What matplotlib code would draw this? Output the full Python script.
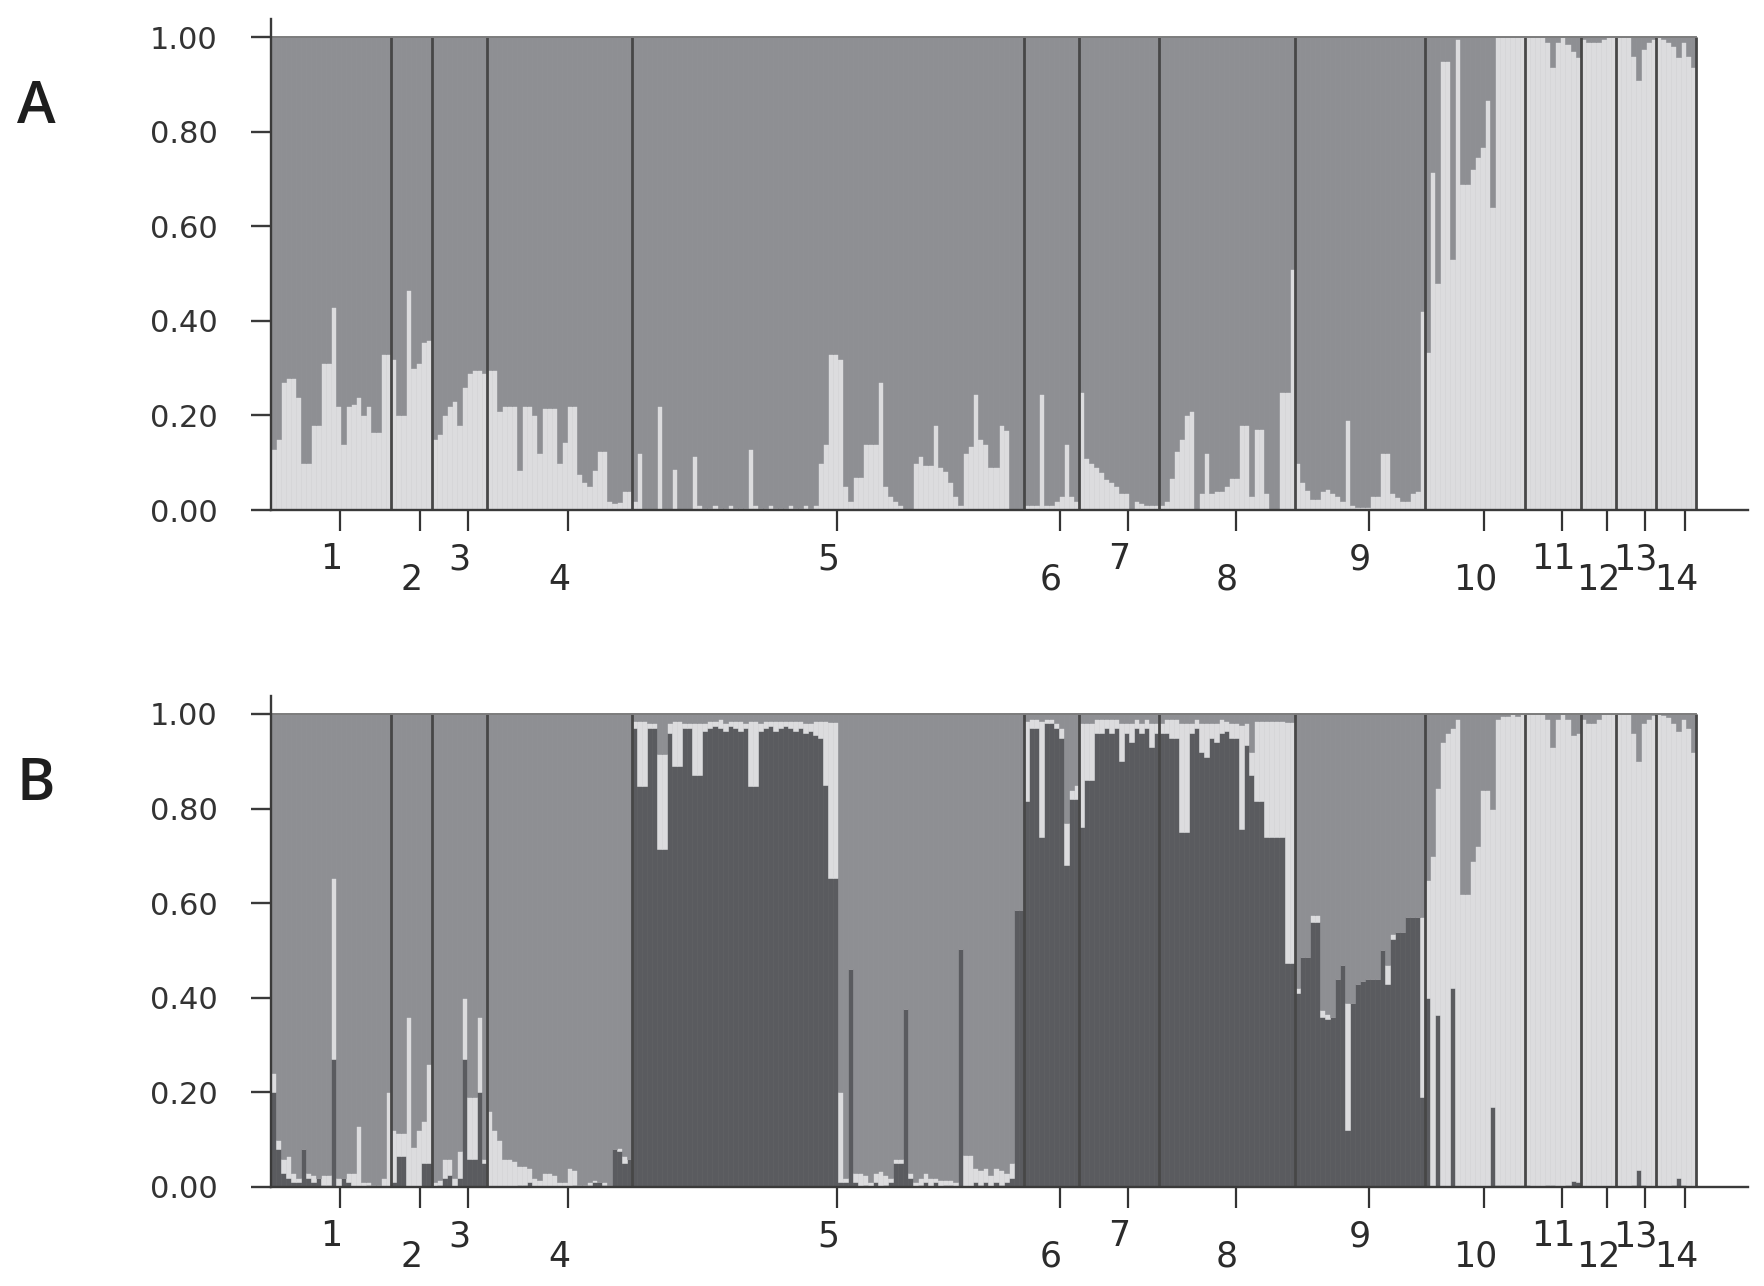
import numpy as np
import matplotlib.pyplot as plt

# populations (labels under the x axis) and number of individuals in each
pop_labels = [str(i) for i in range(1, 15)]
pop_sizes = [24, 8, 11, 29, 78, 11, 16, 27, 26, 20, 11, 7, 8, 8]

# panel A (K=2): share of the light cluster per individual, the rest is mid grey
a_light = [
    0.13, 0.15, 0.27, 0.28, 0.28, 0.24, 0.10, 0.10, 0.18, 0.18, 0.31, 0.31,
    0.43, 0.22, 0.14, 0.22, 0.225, 0.24, 0.20, 0.22, 0.165, 0.165, 0.33, 0.33,  # 1
    0.32, 0.20, 0.20, 0.465, 0.30, 0.31, 0.355, 0.36,  # 2
    0.15, 0.16, 0.20, 0.22, 0.23, 0.18, 0.26, 0.29, 0.295, 0.295, 0.29,  # 3
    0.295, 0.295, 0.21, 0.22, 0.22, 0.22, 0.085, 0.22, 0.22, 0.20, 0.12, 0.215,
    0.215, 0.215, 0.10, 0.143, 0.22, 0.22, 0.077, 0.06, 0.05, 0.085, 0.125,
    0.125, 0.02, 0.015, 0.017, 0.04, 0.04,  # 4
    0.02, 0.12, 0.0, 0.0, 0.0, 0.22, 0.0, 0.0, 0.087, 0.0, 0.0, 0.0, 0.115, 0.01,
    0.005, 0.005, 0.01, 0.005, 0.005, 0.01, 0.005, 0.005, 0.005, 0.13,
    0.01, 0.005, 0.005, 0.01, 0.005, 0.005, 0.005, 0.01, 0.005, 0.005, 0.01,
    0.005, 0.01, 0.10, 0.14, 0.33, 0.33, 0.32, 0.05, 0.02, 0.07, 0.07, 0.14,
    0.14, 0.14, 0.27, 0.05, 0.03, 0.02, 0.01, 0.0, 0.0, 0.10, 0.115, 0.095,
    0.095, 0.18, 0.09, 0.083, 0.06, 0.03, 0.01, 0.12, 0.136, 0.245, 0.15, 0.14,
    0.09, 0.09, 0.18, 0.17, 0.0, 0.0, 0.0,  # 5
    0.01, 0.01, 0.01, 0.245, 0.01, 0.01, 0.02, 0.03, 0.14, 0.03, 0.02,  # 6
    0.25, 0.11, 0.10, 0.09, 0.08, 0.065, 0.06, 0.05, 0.035, 0.035, 0.0, 0.02,
    0.015, 0.01, 0.01, 0.01,  # 7
    0.01, 0.02, 0.067, 0.124, 0.15, 0.20, 0.21, 0.0, 0.035, 0.12, 0.035, 0.04,
    0.04, 0.05, 0.067, 0.067, 0.18, 0.18, 0.03, 0.172, 0.172, 0.035, 0.0, 0.0,
    0.25, 0.25, 0.51,  # 8
    0.10, 0.06, 0.043, 0.023, 0.023, 0.04, 0.045, 0.035, 0.03, 0.02, 0.19, 0.01,
    0.006, 0.006, 0.006, 0.03, 0.03, 0.12, 0.12, 0.035, 0.027, 0.02, 0.02,
    0.035, 0.04, 0.42,  # 9
    0.335, 0.714, 0.48, 0.95, 0.95, 0.53, 0.995, 0.69, 0.69, 0.72, 0.747, 0.767,
    0.866, 0.64, 1.0, 1.0, 1.0, 1.0, 1.0, 1.0,  # 10
    1.0, 1.0, 1.0, 1.0, 0.99, 0.937, 0.99, 1.0, 0.985, 0.97, 0.957,  # 11
    0.995, 0.99, 0.99, 0.99, 0.995, 1.0, 1.0,  # 12
    1.0, 1.0, 1.0, 0.96, 0.91, 0.975, 0.99, 0.995,  # 13
    1.0, 0.995, 0.99, 0.98, 0.957, 0.99, 0.96, 0.937,  # 14
]

# panel B (K=3): dark cluster (bottom) and light cluster (middle), mid grey on top
b_dark = [
    0.20, 0.08, 0.03, 0.02, 0.01, 0.01, 0.08, 0.02, 0.01, 0.02, 0.005, 0.005,
    0.27, 0.0, 0.02, 0.01, 0.0, 0.0, 0.0, 0.005, 0.0, 0.0, 0.0, 0.0,  # 1
    0.01, 0.065, 0.065, 0.0, 0.0, 0.0, 0.05, 0.05,  # 2
    0.0, 0.005, 0.02, 0.025, 0.0, 0.02, 0.27, 0.06, 0.06, 0.2, 0.05,  # 3
    0.0, 0.0, 0.0, 0.0, 0.0, 0.0, 0.005, 0.005, 0.01, 0.0, 0.0, 0.0, 0.0, 0.0,
    0.0, 0.0, 0.0, 0.005, 0.0, 0.0, 0.005, 0.01, 0.01, 0.005, 0.005, 0.08,
    0.077, 0.05, 0.06,  # 4
    0.97, 0.848, 0.848, 0.97, 0.97, 0.715, 0.715, 0.96, 0.89, 0.89, 0.97, 0.97,
    0.87, 0.87, 0.965, 0.97, 0.975, 0.97, 0.965, 0.975, 0.97, 0.965, 0.97,
    0.848, 0.848, 0.965, 0.97, 0.975, 0.965, 0.97, 0.975, 0.97, 0.965, 0.97,
    0.96, 0.965, 0.955, 0.95, 0.85, 0.654, 0.654, 0.01, 0.01, 0.46, 0.01, 0.0,
    0.005, 0.0, 0.01, 0.0, 0.005, 0.01, 0.05, 0.05, 0.376, 0.02, 0.0, 0.005,
    0.01, 0.0, 0.01, 0.0, 0.005, 0.005, 0.0, 0.504, 0.0, 0.0, 0.01, 0.005, 0.01,
    0.0, 0.01, 0.005, 0.01, 0.02, 0.585, 0.585,  # 5
    0.815, 0.97, 0.97, 0.74, 0.98, 0.98, 0.97, 0.95, 0.68, 0.82, 0.82,  # 6
    0.76, 0.86, 0.86, 0.96, 0.96, 0.97, 0.96, 0.97, 0.90, 0.96, 0.94, 0.97,
    0.96, 0.97, 0.93, 0.96,  # 7
    0.96, 0.96, 0.95, 0.95, 0.75, 0.75, 0.96, 0.97, 0.92, 0.91, 0.95, 0.94,
    0.96, 0.965, 0.95, 0.95, 0.756, 0.935, 0.87, 0.815, 0.815, 0.74, 0.74,
    0.74, 0.74, 0.474, 0.474,  # 8
    0.41, 0.487, 0.487, 0.56, 0.56, 0.36, 0.355, 0.36, 0.44, 0.47, 0.12, 0.39,
    0.43, 0.435, 0.44, 0.44, 0.44, 0.50, 0.43, 0.525, 0.54, 0.54, 0.57, 0.57,
    0.57, 0.19,  # 9
    0.40, 0.0, 0.363, 0.0, 0.0, 0.42, 0.0, 0.0, 0.0, 0.0, 0.0, 0.0, 0.0, 0.17,
    0.005, 0.005, 0.005, 0.005, 0.005, 0.005,  # 10
    0.005, 0.003, 0.003, 0.003, 0.005, 0.005, 0.003, 0.003, 0.005, 0.012, 0.01,  # 11
    0.003, 0.003, 0.003, 0.003, 0.003, 0.003, 0.003,  # 12
    0.003, 0.003, 0.003, 0.005, 0.035, 0.005, 0.003, 0.003,  # 13
    0.003, 0.003, 0.003, 0.005, 0.02, 0.005, 0.003, 0.003,  # 14
]
b_light = [
    0.04, 0.02, 0.03, 0.045, 0.02, 0.01, 0.0, 0.01, 0.015, 0.0, 0.02, 0.02,
    0.384, 0.02, 0.0, 0.02, 0.03, 0.128, 0.01, 0.005, 0.005, 0.005, 0.02, 0.2,  # 1
    0.11, 0.05, 0.05, 0.36, 0.085, 0.12, 0.09, 0.21,  # 2
    0.01, 0.01, 0.04, 0.035, 0.02, 0.056, 0.13, 0.13, 0.13, 0.16, 0.01,  # 3
    0.16, 0.12, 0.10, 0.06, 0.06, 0.055, 0.04, 0.04, 0.03, 0.02, 0.015, 0.03,
    0.03, 0.025, 0.01, 0.01, 0.04, 0.03, 0.005, 0.005, 0.005, 0.005, 0.0, 0.005,
    0.0, 0.0, 0.005, 0.015, 0.0,  # 4
    0.015, 0.137, 0.137, 0.01, 0.01, 0.2, 0.2, 0.02, 0.095, 0.095, 0.01, 0.01,
    0.11, 0.11, 0.015, 0.015, 0.01, 0.02, 0.015, 0.01, 0.015, 0.02, 0.01,
    0.137, 0.137, 0.015, 0.015, 0.01, 0.02, 0.015, 0.01, 0.015, 0.02, 0.015,
    0.02, 0.015, 0.03, 0.035, 0.135, 0.33, 0.33, 0.19, 0.01, 0.0, 0.02, 0.03,
    0.02, 0.01, 0.02, 0.034, 0.02, 0.01, 0.01, 0.01, 0.0, 0.01, 0.01, 0.015,
    0.02, 0.02, 0.01, 0.015, 0.01, 0.01, 0.01, 0.0, 0.068, 0.068, 0.03, 0.03,
    0.03, 0.025, 0.03, 0.03, 0.02, 0.03, 0.0, 0.0,  # 5
    0.17, 0.02, 0.02, 0.245, 0.01, 0.01, 0.01, 0.02, 0.09, 0.02, 0.03,  # 6
    0.22, 0.12, 0.12, 0.03, 0.03, 0.02, 0.03, 0.02, 0.08, 0.02, 0.04, 0.02,
    0.02, 0.02, 0.05, 0.02,  # 7
    0.02, 0.03, 0.04, 0.04, 0.23, 0.23, 0.02, 0.02, 0.06, 0.07, 0.03, 0.04,
    0.03, 0.02, 0.03, 0.03, 0.22, 0.045, 0.05, 0.17, 0.17, 0.245, 0.245, 0.245,
    0.245, 0.51, 0.51,  # 8
    0.01, 0.0, 0.0, 0.015, 0.015, 0.015, 0.01, 0.0, 0.0, 0.0, 0.27, 0.0, 0.0,
    0.0, 0.0, 0.0, 0.0, 0.0, 0.04, 0.01, 0.0, 0.0, 0.0, 0.0, 0.0, 0.38,  # 9
    0.25, 0.70, 0.48, 0.94, 0.96, 0.55, 0.99, 0.62, 0.62, 0.69, 0.72, 0.84,
    0.84, 0.63, 0.985, 0.99, 0.99, 0.995, 0.99, 0.995,  # 10
    0.995, 0.997, 0.997, 0.997, 0.985, 0.925, 0.987, 0.997, 0.985, 0.943, 0.95,  # 11
    0.987, 0.977, 0.977, 0.987, 0.997, 0.997, 0.997,  # 12
    0.997, 0.997, 0.997, 0.955, 0.865, 0.975, 0.987, 0.995,  # 13
    0.997, 0.995, 0.99, 0.975, 0.945, 0.985, 0.967, 0.917,  # 14
]

c_light = '#dcdcde'
c_mid = '#8e8f93'
c_dark = '#5a5b5f'

n = sum(pop_sizes)
x = np.arange(n)
edges = np.concatenate([[0], np.cumsum(pop_sizes)])
starts = edges[:-1]
centers = starts + np.array(pop_sizes) / 2

a_light = np.array(a_light)
b_dark = np.array(b_dark)
b_light = np.array(b_light)
b_mid = np.clip(1 - b_dark - b_light, 0, None)

fig = plt.figure(figsize=(17.64, 12.86), dpi=100)
ax_a = fig.add_axes([0.1536, 0.6034, 0.8373, 0.3818])
ax_b = fig.add_axes([0.1536, 0.0770, 0.8373, 0.3818])


def draw_panel(ax, layers):
    bottom = np.zeros(n)
    for vals, fc, ec in layers:
        ax.bar(x, vals, width=1, bottom=bottom, align='edge', color=fc,
               edgecolor=ec, linewidth=0.4)
        bottom = bottom + vals
    # population borders and the top line
    for e in edges[1:]:
        ax.plot([e, e], [0, 1], color='#474747', lw=2.0, solid_capstyle='butt')
    ax.plot([0, n], [1, 1], color='#7c7c7c', lw=1.4)

    ax.set_xlim(0, n * 1477 / 1425)
    ax.set_ylim(0, 1.038)
    for s in ['top', 'right']:
        ax.spines[s].set_visible(False)
    for s in ['left', 'bottom']:
        ax.spines[s].set_color('#3a3a3a')
        ax.spines[s].set_linewidth(1.7)

    ax.set_yticks([0, 0.2, 0.4, 0.6, 0.8, 1.0])
    ax.set_yticklabels(['%.2f' % v for v in [0, 0.2, 0.4, 0.6, 0.8, 1.0]])
    ax.tick_params(axis='y', length=14.5, width=1.7, pad=24, labelsize=22,
                   color='#3a3a3a', labelcolor='#333333')

    ax.set_xticks(centers + 1.8)
    ax.set_xticklabels([])
    ax.tick_params(axis='x', length=15, width=1.6, color='#333333')

    # staggered population numbers
    for i, (lab, c) in enumerate(zip(pop_labels, centers)):
        off = -42.5 if i % 2 == 0 else -57.5
        ax.annotate(lab, xy=(c, 0), xycoords=('data', 'axes fraction'),
                    xytext=(0, off), textcoords='offset points',
                    ha='center', va='baseline', fontsize=25, color='#2b2b2b')


draw_panel(ax_a, [(a_light, c_light, '#d2d2d5'),
                  (1 - a_light, c_mid, '#898a8e')])
draw_panel(ax_b, [(b_dark, c_dark, '#55565a'),
                  (b_light, c_light, '#d2d2d5'),
                  (b_mid, c_mid, '#898a8e')])

fig.text(0.0207, 0.9044, 'A', fontsize=42, fontweight='semibold',
         family=['Open Sans', 'DejaVu Sans'], ha='center', va='baseline',
         color='#1e1e1e')
fig.text(0.0204, 0.3779, 'B', fontsize=42, fontweight='semibold',
         family=['Open Sans', 'DejaVu Sans'], ha='center', va='baseline',
         color='#1e1e1e')

fig.savefig('out.png', dpi=100, facecolor='white')
